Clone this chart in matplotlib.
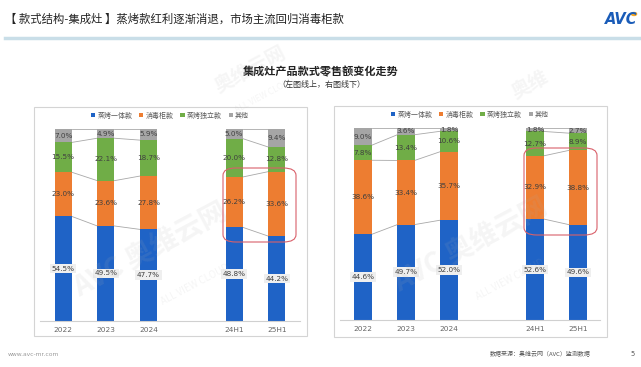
import matplotlib.pyplot as plt
from matplotlib.patches import Rectangle, FancyBboxPatch
from matplotlib.lines import Line2D
import numpy as np

plt.rcParams['font.family'] = ['Noto Sans CJK SC', 'DejaVu Sans']

W, H = 641, 367

# ---------------- data ----------------
periods = ['2022', '2023', '2024', '24H1', '25H1']
series = ['蒸烤一体款', '消毒柜款', '蒸烤独立款', '其他']
colors = ['#1F63C6', '#ED7D31', '#70AD47', '#A5A5A5']

# left chart (线上)
online_steamoven = [54.5, 49.5, 47.7, 48.8, 44.2]
online_cabinet = [23.0, 23.6, 27.8, 26.2, 33.6]
online_separate = [15.5, 22.1, 18.7, 20.0, 12.8]
online_other = [7.0, 4.9, 5.9, 5.0, 9.4]

# right chart (线下)
offline_steamoven = [44.6, 49.7, 52.0, 52.6, 49.6]
offline_cabinet = [38.6, 33.4, 35.7, 32.9, 38.8]
offline_separate = [7.8, 13.4, 10.6, 12.7, 8.9]
offline_other = [9.0, 3.6, 1.8, 1.8, 2.7]

positions = [0, 1, 2, 4, 5]
link_pairs = [(0, 1), (1, 2), (3, 4)]
bar_w = 0.4


def fx(px):
    return px / W


def fy(py):
    return 1 - py / H


fig = plt.figure(figsize=(W / 100, H / 100), dpi=100)
fig.patch.set_facecolor('white')

# header
fig.text(fx(5), fy(19), '【 款式结构-集成灶 】蒸烤款红利逐渐消退，市场主流回归消毒柜款',
         fontsize=8.2, color='#222222', va='center', ha='left')
fig.add_artist(Line2D([fx(5), fx(641)], [fy(37.5), fy(37.5)], color='#C9DEE8', lw=2.5))
fig.text(fx(605), fy(19), 'AVC', fontsize=10.5, color='#1A5CB8', fontweight='bold',
         fontstyle='italic', va='center', ha='left', family='DejaVu Sans')
fig.add_artist(plt.Circle((fx(634), fy(14)), 0.004, color='#F5A623', transform=fig.transFigure))

# chart title
fig.text(fx(321), fy(72), '集成灶产品款式零售额变化走势', fontsize=8, color='#222222',
         ha='center', va='center', fontweight='bold')
fig.text(fx(321), fy(84), '（左图线上，右图线下）', fontsize=5.8, color='#333333',
         ha='center', va='center')

# watermarks
wm = dict(color='#B0B0B0', alpha=0.12, ha='center', va='center', rotation=28)
fig.text(fx(150), fy(250), 'AVC 奥维云网', fontsize=20, fontweight='bold', **wm)
fig.text(fx(195), fy(285), 'ALL VIEW CLOUD', fontsize=7, **wm)
fig.text(fx(470), fy(245), 'AVC 奥维云网', fontsize=20, fontweight='bold', **wm)
fig.text(fx(510), fy(280), 'ALL VIEW CLOUD', fontsize=7, **wm)
fig.text(fx(250), fy(70), '奥维云网', fontsize=14, fontweight='bold', **wm)
fig.text(fx(265), fy(95), 'ALL VIEW CLOUD', fontsize=6, **wm)
fig.text(fx(530), fy(85), '奥维', fontsize=14, fontweight='bold', **wm)


def draw_panel(box, ax_px, data, red_box):
    # panel border
    x0, y0, x1, y1 = box
    fig.add_artist(Rectangle((fx(x0), fy(y1)), fx(x1 - x0), fy(y0) - fy(y1),
                             transform=fig.transFigure, fill=False,
                             edgecolor='#D4D4D4', lw=0.8))
    l, r, top, bot, xlo, xhi = ax_px
    ax = fig.add_axes([fx(l), fy(bot), fx(r - l), fy(top) - fy(bot)])
    ax.set_xlim(xlo, xhi)
    ax.set_ylim(0, 100)
    for s in ['top', 'right', 'left']:
        ax.spines[s].set_visible(False)
    ax.spines['bottom'].set_color('#D0D0D0')
    ax.spines['bottom'].set_linewidth(0.8)
    ax.set_yticks([])
    ax.set_xticks(positions)
    ax.set_xticklabels(periods, fontsize=5.3, color='#666666', family='DejaVu Sans')
    ax.tick_params(axis='x', length=0, pad=4)
    ax.patch.set_alpha(0)

    bottoms = np.zeros(len(positions))
    tops_list = []
    for i, vals in enumerate(data):
        vals = np.array(vals)
        ax.bar(positions, vals, bar_w, bottom=bottoms, color=colors[i],
               label=series[i], zorder=2)
        for p, b, v in zip(positions, bottoms, vals):
            box_kw = None
            if i == 0:
                box_kw = dict(boxstyle='square,pad=0.25', fc='#EFEFEF', ec='none')
            ax.text(p, b + v / 2, f'{v:.1f}%', ha='center', va='center',
                    fontsize=5.2, color='#404040', family='DejaVu Sans',
                    bbox=box_kw, zorder=4)
        bottoms = bottoms + vals
        tops_list.append(bottoms.copy())

    # series lines between bars
    for a, b in link_pairs:
        for tops in tops_list:
            ax.plot([positions[a] + bar_w / 2, positions[b] - bar_w / 2],
                    [min(tops[a], 100), min(tops[b], 100)],
                    color='#A8A8A8', lw=0.6, zorder=1)

    leg = ax.legend(loc='center', bbox_to_anchor=(0.5, 1.07), ncol=4,
                    frameon=False, fontsize=5, handlelength=0.6, handleheight=0.6,
                    handletextpad=0.3, columnspacing=1.0, borderaxespad=0)
    for t in leg.get_texts():
        t.set_color('#595959')

    rx0, ry0, rx1, ry1 = red_box
    fig.add_artist(FancyBboxPatch((fx(rx0), fy(ry1)), fx(rx1 - rx0), fy(ry0) - fy(ry1),
                                  boxstyle='round,pad=0,rounding_size=0.02',
                                  transform=fig.transFigure, fill=False,
                                  edgecolor='#D9606A', lw=0.8, zorder=5))


draw_panel((34, 107, 307, 336), (40, 300, 129, 321, -0.54, 5.54),
           [online_steamoven, online_cabinet, online_separate, online_other],
           (223, 168, 296, 242))
draw_panel((334, 106, 607, 337), (340, 600, 128, 320, -0.535, 5.51),
           [offline_steamoven, offline_cabinet, offline_separate, offline_other],
           (524, 148, 597, 235))

# footer
fig.text(fx(8), fy(354), 'www.avc-mr.com', fontsize=4.3, color='#9A9A9A', va='center',
         family='DejaVu Sans')
fig.text(fx(490), fy(354), '数据来源：奥维云网（AVC）监测数据', fontsize=4.3, color='#555555',
         va='center')
fig.text(fx(630), fy(354), '5', fontsize=4.8, color='#555555', va='center',
         family='DejaVu Sans')

fig.savefig('out.png', dpi=100)
